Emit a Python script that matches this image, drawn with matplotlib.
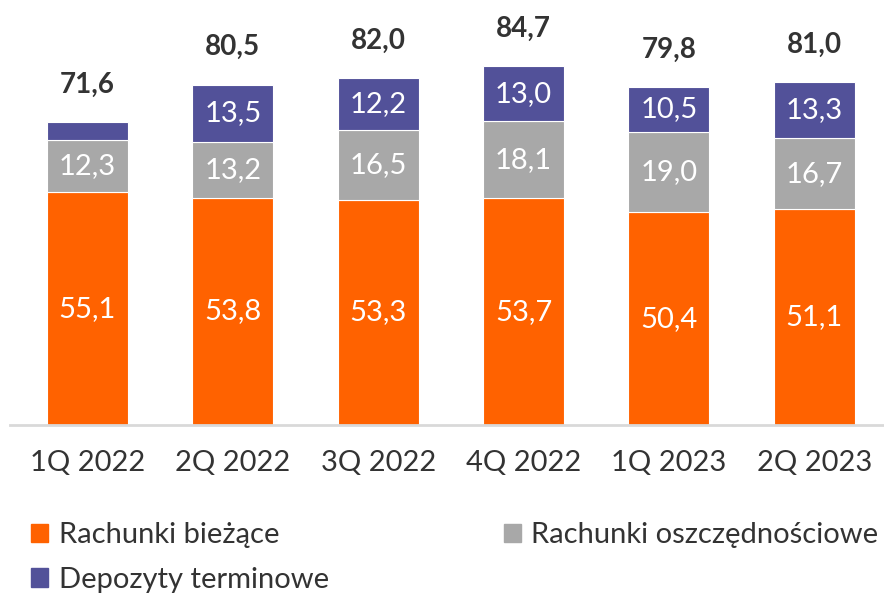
import matplotlib.pyplot as plt
from matplotlib.patches import Patch

quarters = ["1Q 2022", "2Q 2022", "3Q 2022", "4Q 2022", "1Q 2023", "2Q 2023"]
biezace = [55.1, 53.8, 53.3, 53.7, 50.4, 51.1]
oszczednosciowe = [12.3, 13.2, 16.5, 18.1, 19.0, 16.7]
terminowe = [4.2, 13.5, 12.2, 13.0, 10.5, 13.3]
totals = [71.6, 80.5, 82.0, 84.7, 79.8, 81.0]

series_names = ["Rachunki bieżące", "Rachunki oszczędnościowe", "Depozyty terminowe"]
colors = ["#FF6200", "#A8A8A8", "#525199"]

plt.rcParams["font.family"] = ["Lato", "DejaVu Sans"]

fig = plt.figure(figsize=(8.84, 5.98), dpi=100)
ax = fig.add_axes([0.0113, 0.289, 0.9887, 0.711])

x = list(range(len(quarters)))
w = 0.557
bottoms = [0] * len(x)
for vals, col in zip([biezace, oszczednosciowe, terminowe], colors):
    ax.bar(x, vals, w, bottom=bottoms, color=col, edgecolor="white", linewidth=0.8)
    for i, v in enumerate(vals):
        if v >= 8:
            ax.text(i, bottoms[i] + v / 2, ("%.1f" % v).replace(".", ","),
                    ha="center", va="center", color="white", fontsize=21)
    bottoms = [b + v for b, v in zip(bottoms, vals)]

for i, t in enumerate(totals):
    ax.annotate(("%.1f" % t).replace(".", ","), (i, bottoms[i]), xytext=(0, 27),
                textcoords="offset points", ha="center", va="center",
                fontsize=20, fontweight="bold", color="#333333")

ax.set_xlim(-0.533, 5.48)
ax.set_ylim(0, 100.5)
ax.set_xticks(x)
ax.set_xticklabels(quarters, fontsize=21, color="#333333")
ax.tick_params(axis="x", length=0, pad=18)
ax.set_yticks([])
for s in ["top", "right", "left"]:
    ax.spines[s].set_visible(False)
ax.spines["bottom"].set_color("#D9D9D9")
ax.spines["bottom"].set_linewidth(2)

handles = [Patch(color=colors[0], label=series_names[0]),
           Patch(color=colors[2], label=series_names[2]),
           Patch(color=colors[1], label=series_names[1])]
fig.legend(handles=handles, ncol=2, loc="upper left", bbox_to_anchor=(0.035, 0.127),
           frameon=False, fontsize=21, handlelength=0.6, handleheight=0.6,
           handletextpad=0.35, columnspacing=6.0, labelspacing=0.65,
           labelcolor="#333333", borderaxespad=0, borderpad=0)

fig.savefig("out.png", dpi=100)
